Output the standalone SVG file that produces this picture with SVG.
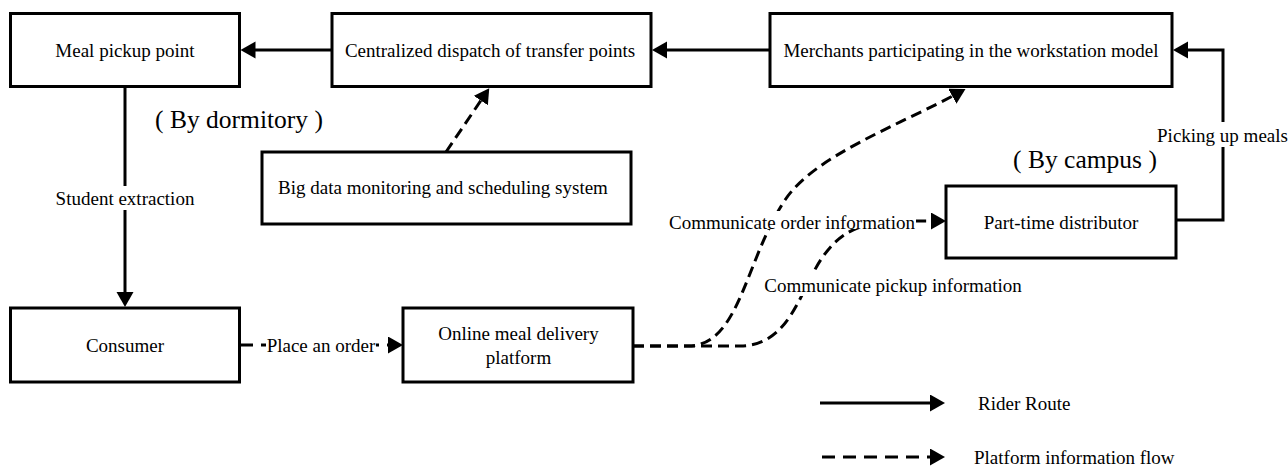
<svg xmlns="http://www.w3.org/2000/svg" width="1288" height="468" viewBox="0 0 1288 468">
  <style>
    .box { fill: #fff; stroke: #000; stroke-width: 3; }
    .lbl { font-family: "Liberation Serif", "Times New Roman", serif; font-size: 19px; fill: #000; text-anchor: middle; }
    .big { font-size: 25.5px; }
    .solid { fill: none; stroke: #000; stroke-width: 3; marker-end: url(#arrow); }
    .dash { fill: none; stroke: #000; stroke-width: 3; stroke-dasharray: 11 6; marker-end: url(#arrow); }
    .dash-long { stroke-dasharray: 13 8; }
    .bg { fill: #fff; }
  </style>
  <defs>
    <marker id="arrow" markerUnits="userSpaceOnUse" markerWidth="16" markerHeight="18" refX="11" refY="8.5" orient="auto">
      <path d="M0,0 L15,8.5 L0,17 Z" fill="#000"/>
    </marker>
  </defs>

  <rect width="1288" height="468" fill="#fff"/>

  <!-- connectors -->
  <g id="connectors">
    <!-- dispatch -> pickup point -->
    <path class="solid" d="M332,50 H244.5"/>
    <!-- merchants -> dispatch -->
    <path class="solid" d="M770,50 H656"/>
    <!-- distributor picks up meals from merchants -->
    <path class="solid" d="M1176,220 H1223 V50 H1177"/>
    <!-- pickup point -> consumer -->
    <path class="solid" d="M125,86.5 V303"/>
    <!-- consumer places order -->
    <path class="dash dash-long" d="M240,345 H399"/>
    <!-- monitoring system -> dispatch -->
    <path class="dash" d="M446,152 L487,91.5"/>
    <!-- platform -> merchants (order info) -->
    <path class="dash" d="M633,346 H688 C740,346 745,260 785,200 C815,155 900,125 962,91"/>
    <!-- platform -> distributor (pickup info) -->
    <path class="dash" d="M633,346 H740 C790,346 800,290 822,258 C840,232 860,221 905,221 L942,221"/>

    <!-- labels sitting on connectors -->
    <rect class="bg" x="54" y="186" width="142" height="24"/>
    <text class="lbl" x="125" y="204.5">Student extraction</text>
    <rect class="bg" x="266" y="334" width="110" height="22"/>
    <text class="lbl" x="321" y="351.5">Place an order</text>
    <rect class="bg" x="1157" y="122" width="131" height="25"/>
    <text class="lbl" x="1222.5" y="141.5">Picking up meals</text>
    <rect class="bg" x="664" y="211" width="252" height="18"/>
    <text class="lbl" x="792" y="228.5">Communicate order information</text>
    <rect class="bg" x="763" y="274" width="260" height="22"/>
    <text class="lbl" x="893" y="291.5">Communicate pickup information</text>
  </g>

  <!-- nodes -->
  <g id="meal-pickup-point">
    <rect class="box" x="10.5" y="13.5" width="229" height="73"/>
    <text class="lbl" x="125" y="56.5">Meal pickup point</text>
  </g>
  <g id="centralized-dispatch">
    <rect class="box" x="332" y="13.5" width="319" height="73"/>
    <text class="lbl" x="490" y="56.5">Centralized dispatch of transfer points</text>
  </g>
  <g id="merchants">
    <rect class="box" x="770" y="13.5" width="402" height="73"/>
    <text class="lbl" x="971" y="56.5">Merchants participating in the workstation model</text>
  </g>
  <g id="big-data-system">
    <rect class="box" x="262" y="152" width="369" height="72"/>
    <text class="lbl" x="443" y="193.5">Big data monitoring and scheduling system</text>
  </g>
  <g id="part-time-distributor">
    <rect class="box" x="946" y="186" width="230" height="72"/>
    <text class="lbl" x="1061" y="228.5">Part-time distributor</text>
  </g>
  <g id="consumer">
    <rect class="box" x="10.5" y="308" width="229" height="74"/>
    <text class="lbl" x="125" y="351.5">Consumer</text>
  </g>
  <g id="online-platform">
    <rect class="box" x="403" y="308" width="230" height="74"/>
    <text class="lbl" x="518.5" y="339.5">Online meal delivery</text>
    <text class="lbl" x="518.5" y="363.5">platform</text>
  </g>

  <!-- area notes -->
  <g id="notes">
    <text class="lbl big" x="239" y="127.5">( By dormitory )</text>
    <text class="lbl big" x="1085" y="167.5">( By campus )</text>
  </g>

  <!-- legend -->
  <g id="legend">
    <path class="solid" d="M820,403 H941"/>
    <text class="lbl" x="978" y="409.5" style="text-anchor:start">Rider Route</text>
    <path class="dash dash-long" d="M822,457 H941"/>
    <text class="lbl" x="974" y="463.5" style="text-anchor:start">Platform information flow</text>
  </g>
</svg>
